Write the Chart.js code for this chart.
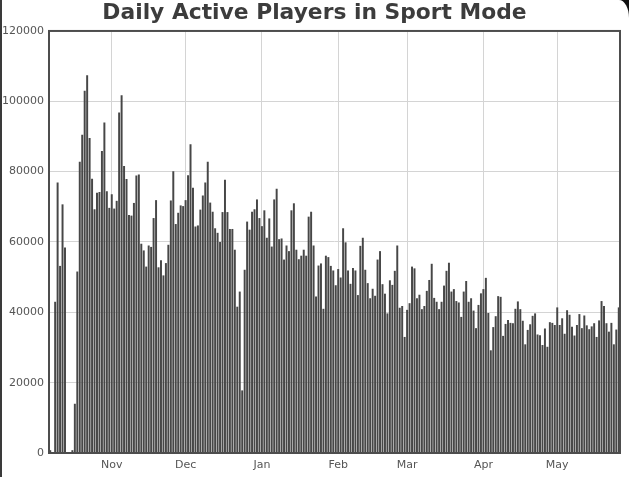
<!DOCTYPE html>
<html><head><meta charset="utf-8">
<script src="https://cdn.jsdelivr.net/npm/chart.js@4.4.1/dist/chart.umd.min.js"></script>
<style>
html,body{margin:0;padding:0;background:#fff;}
#wrap{position:relative;width:629px;height:477px;overflow:hidden;}
canvas{display:block;}
#edge{position:absolute;left:0;top:0;width:2px;height:477px;background:#3a3a3a;}
#corner{position:absolute;right:0;top:0;width:10px;height:18px;background:#111;}
#corner div{width:100%;height:100%;background:#fff;border-top-right-radius:10px 18px;}
</style></head>
<body><div id="wrap"><canvas id="c" width="629" height="477"></canvas><div id="edge"></div><div id="corner"><div></div></div></div>
<script>
const chartTitle = 'Daily Active Players in Sport Mode';
const monthLabels = ['Oct', 'Nov', 'Dec', 'Jan', 'Feb', 'Mar', 'Apr', 'May'];
const yTicks = [0, 20000, 40000, 60000, 80000, 100000, 120000];

// daily active players, Oct 7 .. May 26
const oct = [800, 0, 43000, 76900, 53200, 70700, 58400, 0, 0, 800, 14000, 51600, 82800, 90500, 103000, 107400, 89600, 78000, 69300, 74000, 74200, 85900, 94000, 74400, 69700];
const nov = [73600, 69500, 71700, 96800, 101700, 81600, 77900, 67700, 67500, 71100, 78900, 79200, 59500, 57600, 53000, 59000, 58600, 66800, 71900, 52800, 54800, 50500, 54000, 59200, 71800, 80100, 65100, 68300, 70400, 70200];
const dec = [71900, 79000, 87800, 75400, 64400, 64700, 69200, 73200, 76900, 82800, 71200, 68600, 63900, 62600, 60000, 68500, 77700, 68500, 63700, 63700, 57800, 41600, 45900, 17800, 52100, 65800, 63500, 68600, 69300, 72100, 66800];
const jan = [64500, 69000, 61200, 66700, 58700, 72100, 75100, 60800, 61000, 55000, 59000, 57400, 69000, 71000, 57800, 55100, 56100, 57800, 56100, 67200, 68600, 59000, 44500, 53300, 53900, 41000, 56100, 55700, 53200, 51900, 47700];
const feb = [52300, 49900, 63900, 59900, 51900, 48100, 52600, 51900, 44900, 58900, 61200, 52100, 48300, 44000, 46700, 44700, 55000, 57400, 48000, 45300, 39700, 49100, 47800, 51800, 59000, 41300, 41800, 33000];
const mar = [40700, 42600, 53000, 52500, 44000, 45000, 40900, 41800, 46100, 49200, 53800, 44100, 43000, 40900, 43000, 47600, 51800, 54100, 45900, 46600, 43200, 42800, 38700, 45900, 48900, 43000, 44000, 40500, 35500, 42100, 45400];
const apr = [46600, 49800, 39800, 29200, 35800, 38900, 44600, 44400, 33300, 36700, 37800, 37000, 36900, 41000, 43100, 40900, 37600, 30900, 35000, 36600, 39000, 39700, 33700, 33500, 30700, 35400, 30200, 37200, 37000, 36400];
const may = [41400, 36400, 38300, 33900, 40600, 39300, 35900, 33400, 36400, 39500, 35500, 39100, 36300, 35200, 36000, 36900, 33000, 37700, 43200, 41800, 36900, 34500, 37000, 30900, 35100, 41400];

const months = [oct, nov, dec, jan, feb, mar, apr, may];
const values = [].concat(...months);
const monthStarts = [];
let acc = 0;
months.forEach(m => { monthStarts.push(acc); acc += m.length; });
const tickDays = monthStarts.slice(1);
const tickNames = monthLabels.slice(1);

const points = values.map((v, i) => ({ x: i, y: v }));

const frame = {
  id: 'frame',
  afterDraw(chart) {
    const { ctx, chartArea: a } = chart;
    ctx.save();
    ctx.strokeStyle = '#4d4d4d';
    ctx.lineWidth = 2;
    ctx.strokeRect(a.left, a.top, a.right - a.left, a.bottom - a.top);
    ctx.restore();
  }
};

const tickFont = { family: 'DejaVu Sans', size: 11 };

new Chart(document.getElementById('c'), {
  type: 'bar',
  data: {
    datasets: [{
      data: points,
      backgroundColor: '#474747',
      borderWidth: 0,
      categoryPercentage: 1,
      barPercentage: 0.8
    }]
  },
  options: {
    responsive: false,
    animation: false,
    devicePixelRatio: 1,
    layout: { padding: 0 },
    plugins: {
      legend: { display: false },
      tooltip: { enabled: false },
      title: {
        display: true,
        text: chartTitle,
        color: '#3c3c3c',
        font: { family: 'DejaVu Sans', size: 21.8, weight: 'bold' },
        padding: { top: 0, bottom: 4.8 }
      }
    },
    scales: {
      x: {
        type: 'linear',
        offset: false,
        min: -0.5,
        max: values.length - 0.5,
        afterBuildTicks: s => { s.ticks = tickDays.map(v => ({ value: v })); },
        afterFit: s => { s.height = 24; },
        grid: { offset: false, color: '#d4d4d4', lineWidth: 1, drawTicks: false },
        border: { display: false },
        ticks: {
          autoSkip: false,
          maxRotation: 0,
          padding: 6,
          color: '#555',
          font: tickFont,
          callback: (v, i) => tickNames[i]
        }
      },
      y: {
        min: 0,
        max: yTicks[yTicks.length - 1],
        afterBuildTicks: s => { s.ticks = yTicks.map(v => ({ value: v })); },
        afterFit: s => { s.width = 49; },
        grid: { color: '#d4d4d4', lineWidth: 1, drawTicks: false },
        border: { display: false },
        ticks: {
          padding: 5,
          color: '#555',
          font: tickFont,
          callback: v => String(v)
        }
      },
      yRight: {
        position: 'right',
        min: 0,
        max: yTicks[yTicks.length - 1],
        afterFit: s => { s.width = 9; },
        grid: { display: false, drawTicks: false },
        border: { display: false },
        ticks: { display: false }
      }
    }
  },
  plugins: [frame]
});
</script>
</body></html>
